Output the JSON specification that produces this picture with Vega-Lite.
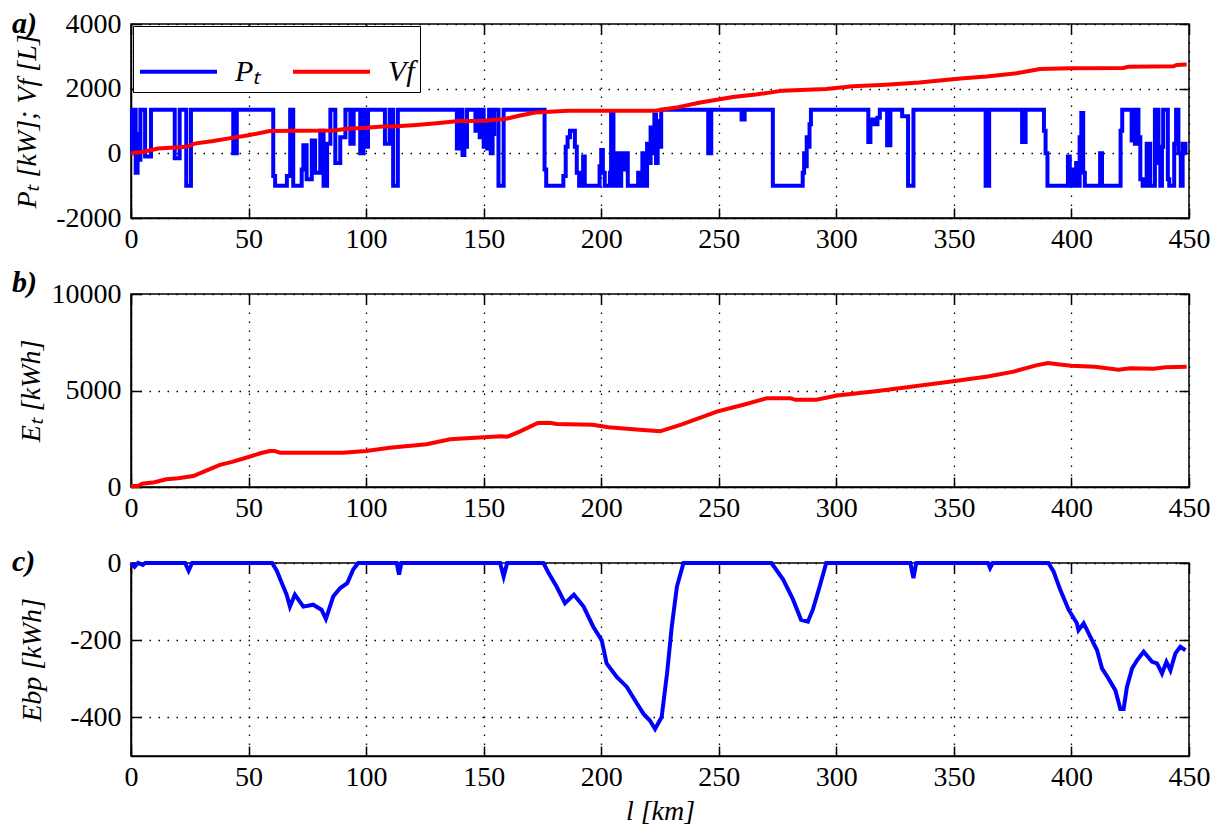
{
  "$schema": "https://vega.github.io/schema/vega-lite/v6.json",
  "padding": {"left": 11, "top": 8, "right": 5, "bottom": 5},
  "bounds": "flush",
  "spacing": 76,
  "config": {
    "font": "Liberation Serif",
    "view": {"stroke": "black", "strokeWidth": 1.5},
    "axis": {
      "labelFont": "Liberation Serif", "labelFontSize": 28, "labelColor": "black",
      "titleFont": "Liberation Serif", "titleFontSize": 28, "titleFontWeight": "normal", "titleFontStyle": "italic", "titleColor": "black",
      "domainColor": "black", "domainWidth": 1.5,
      "tickColor": "black", "tickWidth": 1.5, "tickSize": -10,
      "labelFlush": false, "labelOverlap": false, "labelBound": false,
      "grid": true, "gridColor": "black", "gridDash": [1.5, 7.5], "gridWidth": 1.3, "gridOpacity": 1
    },
    "axisX": {"labelPadding": 17, "labelFont": "Liberation Serif"},
    "axisY": {"labelPadding": 20, "labelFont": "Liberation Serif"},
    "legend": {"labelFont": "Liberation Serif"}
  },
  "datasets": {
    "pt": [
      {"l":0,"v":0},{"l":0.4,"v":1350},{"l":1,"v":300},{"l":1.5,"v":1350},{"l":2,"v":-600},{"l":2.8,"v":600},{"l":3.5,"v":-200},{"l":4,"v":1350},{"l":6,"v":-100},{"l":8.5,"v":1350},
      {"l":18.6,"v":-150},{"l":20.7,"v":1350},{"l":23.5,"v":-1000},{"l":25.5,"v":1350},{"l":43.5,"v":0},{"l":45,"v":1350},{"l":60.5,"v":-700},{"l":61.3,"v":-1000},{"l":66.3,"v":-700},{"l":67.7,"v":1350},
      {"l":69,"v":-1000},{"l":72.6,"v":-500},{"l":73.3,"v":250},{"l":74.7,"v":-800},{"l":76.9,"v":400},{"l":78.3,"v":-600},{"l":80.5,"v":700},{"l":81.9,"v":-1000},{"l":83.4,"v":300},{"l":84.8,"v":1350},
      {"l":86.9,"v":-300},{"l":89,"v":500},{"l":91.2,"v":1350},{"l":93.3,"v":300},{"l":94.7,"v":1350},{"l":97.5,"v":0},{"l":98.9,"v":1350},{"l":100.2,"v":200},{"l":100.8,"v":1350},{"l":108,"v":300},
      {"l":110,"v":1350},{"l":111.5,"v":-1000},{"l":113.5,"v":1350},{"l":138.6,"v":150},{"l":139.3,"v":1350},{"l":139.9,"v":400},{"l":140.5,"v":1350},{"l":141,"v":-50},{"l":141.8,"v":900},{"l":142.3,"v":200},
      {"l":142.9,"v":1350},{"l":146.5,"v":700},{"l":147.5,"v":1350},{"l":148.3,"v":500},{"l":149,"v":1350},{"l":150,"v":200},{"l":150.8,"v":900},{"l":151.5,"v":150},{"l":152.3,"v":1350},{"l":153,"v":0},
      {"l":153.8,"v":600},{"l":154.5,"v":1350},{"l":156.3,"v":-1000},{"l":158.5,"v":1350},{"l":175.9,"v":-500},{"l":176.6,"v":-1000},{"l":183.9,"v":-700},{"l":184.9,"v":200},{"l":185.7,"v":500},{"l":186.7,"v":700},
      {"l":188.8,"v":200},{"l":189.6,"v":-600},{"l":190.6,"v":-1000},{"l":192.3,"v":-100},{"l":193,"v":-1000},{"l":199.3,"v":-400},{"l":200,"v":100},{"l":200.7,"v":-600},{"l":201.5,"v":-1000},{"l":203.7,"v":-600},
      {"l":204.2,"v":1300},{"l":205.2,"v":-1000},{"l":206.5,"v":0},{"l":207.3,"v":-1000},{"l":208.5,"v":0},{"l":209.5,"v":-500},{"l":210.5,"v":0},{"l":211.3,"v":-1000},{"l":215.7,"v":-600},{"l":216.4,"v":-1000},
      {"l":217.5,"v":0},{"l":218.3,"v":-1000},{"l":219.5,"v":300},{"l":220.2,"v":-300},{"l":221,"v":800},{"l":221.8,"v":0},{"l":222.6,"v":1200},{"l":223.3,"v":-300},{"l":224,"v":1000},{"l":224.7,"v":200},
      {"l":225.5,"v":1350},{"l":245.5,"v":0},{"l":246.8,"v":1350},{"l":259.7,"v":1050},{"l":261,"v":1350},{"l":273,"v":-1000},{"l":285.7,"v":-600},{"l":286.3,"v":0},{"l":286.9,"v":-400},{"l":287.4,"v":500},
      {"l":288,"v":200},{"l":288.6,"v":900},{"l":289.2,"v":1350},{"l":313.6,"v":350},{"l":314.5,"v":1050},{"l":316,"v":900},{"l":317.5,"v":1100},{"l":318.5,"v":1350},{"l":321.6,"v":250},{"l":323,"v":1350},
      {"l":328,"v":1150},{"l":330.5,"v":-1000},{"l":332.8,"v":1350},{"l":363.5,"v":-1000},{"l":365,"v":1350},{"l":379,"v":350},{"l":380.5,"v":1350},{"l":388.3,"v":700},{"l":389,"v":0},{"l":389.8,"v":-1000},
      {"l":398.5,"v":-100},{"l":399.3,"v":-1000},{"l":400.3,"v":-500},{"l":401,"v":-1000},{"l":402,"v":-300},{"l":402.7,"v":-1000},{"l":403.5,"v":500},{"l":404.2,"v":1250},{"l":405,"v":-600},{"l":405.7,"v":-1000},
      {"l":412.2,"v":0},{"l":413,"v":-1000},{"l":420.9,"v":700},{"l":421.6,"v":1350},{"l":425.6,"v":400},{"l":426.3,"v":1350},{"l":427,"v":300},{"l":427.7,"v":1350},{"l":428.5,"v":500},{"l":429.3,"v":-800},
      {"l":430.3,"v":-1000},{"l":432,"v":300},{"l":433.5,"v":-1000},{"l":435.5,"v":1350},{"l":437,"v":-300},{"l":437.8,"v":-1000},{"l":438.5,"v":200},{"l":439,"v":1350},{"l":441,"v":-800},{"l":441.6,"v":-1000},
      {"l":443.7,"v":300},{"l":444.5,"v":1350},{"l":445.5,"v":0},{"l":446.5,"v":-1000},{"l":447.3,"v":300},{"l":448.5,"v":0},{"l":449,"v":0}
    ],
    "vf": [
      {"l":0,"v":0},{"l":5,"v":40},{"l":11.5,"v":150},{"l":23.7,"v":200},{"l":27,"v":300},{"l":35,"v":380},{"l":41,"v":455},{"l":50,"v":557},{"l":59,"v":690},{"l":70,"v":700},
      {"l":86,"v":710},{"l":92,"v":758},{"l":100,"v":790},{"l":107,"v":830},{"l":111,"v":830},{"l":120,"v":870},{"l":130,"v":930},{"l":139.4,"v":1000},{"l":150,"v":1010},{"l":159,"v":1060},
      {"l":165,"v":1160},{"l":172,"v":1260},{"l":186,"v":1315},{"l":223,"v":1315},{"l":231.8,"v":1415},{"l":241.6,"v":1566},{"l":256,"v":1739},{"l":265.8,"v":1818},{"l":277,"v":1939},{"l":295.6,"v":1990},
      {"l":307,"v":2072},{"l":321,"v":2121},{"l":335.3,"v":2190},{"l":344,"v":2253},{"l":354,"v":2324},{"l":364,"v":2375},{"l":376.7,"v":2475},{"l":386.6,"v":2606},{"l":400,"v":2630},{"l":422,"v":2640},
      {"l":424.3,"v":2680},{"l":443.4,"v":2690},{"l":444.8,"v":2735},{"l":449,"v":2745}
    ],
    "et": [
      {"l":0,"v":50},{"l":3,"v":50},{"l":4.7,"v":170},{"l":10,"v":250},{"l":15,"v":400},{"l":20,"v":450},{"l":26.5,"v":570},{"l":32,"v":850},{"l":37.8,"v":1150},{"l":43,"v":1300},
      {"l":50,"v":1554},{"l":55,"v":1750},{"l":59,"v":1865},{"l":61,"v":1870},{"l":63.4,"v":1777},{"l":90,"v":1777},{"l":100,"v":1865},{"l":110,"v":2036},{"l":125.7,"v":2212},{"l":135.7,"v":2470},
      {"l":150,"v":2577},{"l":157.7,"v":2629},{"l":160,"v":2600},{"l":165.5,"v":2886},{"l":173,"v":3316},{"l":178,"v":3330},{"l":181,"v":3264},{"l":196.4,"v":3230},{"l":203,"v":3092},{"l":216.3,"v":2972},
      {"l":225,"v":2886},{"l":234,"v":3230},{"l":249.5,"v":3917},{"l":260.5,"v":4260},{"l":270.5,"v":4604},{"l":280.4,"v":4604},{"l":282.6,"v":4518},{"l":291.5,"v":4518},{"l":300.3,"v":4742},{"l":315.8,"v":4948},
      {"l":326.8,"v":5120},{"l":348.9,"v":5463},{"l":364.4,"v":5721},{"l":375.4,"v":5979},{"l":385,"v":6300},{"l":390,"v":6420},{"l":395,"v":6350},{"l":400,"v":6280},{"l":410,"v":6230},{"l":420,"v":6080},
      {"l":425,"v":6150},{"l":435,"v":6130},{"l":440,"v":6200},{"l":449,"v":6230}
    ],
    "ebp": [
      {"l":0,"v":0},{"l":1.5,"v":-10},{"l":3,"v":0},{"l":5,"v":-5},{"l":6,"v":0},{"l":23,"v":0},{"l":24.5,"v":-20},{"l":26,"v":0},{"l":60,"v":0},{"l":62,"v":-20},
      {"l":64,"v":-50},{"l":66.2,"v":-82},{"l":67.6,"v":-113},{"l":69.7,"v":-82},{"l":73.3,"v":-113},{"l":77.5,"v":-108},{"l":81,"v":-121},{"l":82.9,"v":-145},{"l":86,"v":-87},{"l":89,"v":-65},
      {"l":92,"v":-52},{"l":94.5,"v":-17},{"l":96.6,"v":0},{"l":113,"v":0},{"l":114,"v":-30},{"l":115,"v":0},{"l":157,"v":0},{"l":158.5,"v":-35},{"l":160,"v":0},{"l":175.4,"v":0},
      {"l":178,"v":-30},{"l":181,"v":-61},{"l":184.6,"v":-104},{"l":188.4,"v":-82},{"l":192.5,"v":-113},{"l":196.6,"v":-165},{"l":200.2,"v":-200},{"l":202.3,"v":-260},{"l":206.6,"v":-295},{"l":210.9,"v":-321},
      {"l":214.4,"v":-356},{"l":218,"v":-391},{"l":220.7,"v":-408},{"l":222.9,"v":-430},{"l":225.7,"v":-399},{"l":228,"v":-286},{"l":230,"v":-165},{"l":232.2,"v":-61},{"l":235,"v":0},{"l":272.4,"v":0},
      {"l":277.4,"v":-43},{"l":281.6,"v":-95},{"l":285,"v":-147},{"l":287.9,"v":-152},{"l":290,"v":-121},{"l":292.9,"v":-61},{"l":295.7,"v":0},{"l":331.5,"v":0},{"l":332.8,"v":-39},{"l":334,"v":0},
      {"l":364.5,"v":0},{"l":365.4,"v":-13},{"l":366.5,"v":0},{"l":390.2,"v":0},{"l":392.4,"v":-22},{"l":395.2,"v":-69},{"l":398.8,"v":-121},{"l":402.3,"v":-156},{"l":403,"v":-174},{"l":405.2,"v":-156},
      {"l":408,"v":-191},{"l":410.9,"v":-226},{"l":413,"v":-273},{"l":415.8,"v":-300},{"l":418.7,"v":-330},{"l":420.8,"v":-378},{"l":422.2,"v":-378},{"l":423.6,"v":-321},{"l":425.8,"v":-273},{"l":427.9,"v":-252},
      {"l":430.7,"v":-230},{"l":434.3,"v":-256},{"l":436.4,"v":-260},{"l":438.5,"v":-286},{"l":440.4,"v":-256},{"l":442.1,"v":-278},{"l":444.2,"v":-234},{"l":446.3,"v":-217},{"l":448.5,"v":-226}
    ]
  },
  "vconcat": [
    {
      "width": 1058, "height": 194,
      "title": {"text": "a)", "anchor": "start", "frame": "group", "dx": -119, "dy": 29, "fontSize": 30, "fontStyle": "italic", "fontWeight": "bold", "font": "Liberation Serif", "color": "black", "offset": 0},
      "resolve": {"axis": {"x": "independent", "y": "independent"}},
      "layer": [
        {
          "data": {"name": "pt"},
          "mark": {"type": "line", "interpolate": "step-after", "strokeWidth": 4},
          "encoding": {
            "x": {"field": "l", "type": "quantitative", "scale": {"domain": [0, 450], "nice": false, "zero": false}, "axis": {"values": [0,50,100,150,200,250,300,350,400,450], "title": null, "labelFont": "Liberation Serif", "labelExpr": "'' + datum.value"}},
            "y": {"field": "v", "type": "quantitative", "scale": {"domain": [-2000, 4000], "nice": false}, "axis": {"values": [-2000,0,2000,4000], "title": "Pₜ [kW]; Vf [L]", "titleX": -104, "titleBaseline": "middle", "labelFont": "Liberation Serif", "labelExpr": "'' + datum.value"}},
            "color": {"datum": "Pₜ", "type": "nominal", "scale": {"domain": ["Pₜ", "Vf"], "range": ["#0000ff", "#ff0000"]},
              "legend": {"title": null, "orient": "top-left", "offset": 2, "direction": "horizontal", "symbolType": "stroke", "symbolSize": 5929, "symbolStrokeWidth": 4, "labelFont": "Liberation Serif", "labelFontStyle": "italic", "labelFontSize": 30, "labelColor": "black", "labelOffset": 16, "columnPadding": 24, "padding": 5, "fillColor": "white", "strokeColor": "black"}}
          }
        },
        {
          "data": {"name": "vf"},
          "mark": {"type": "line", "strokeWidth": 4},
          "encoding": {
            "x": {"field": "l", "type": "quantitative", "axis": null},
            "y": {"field": "v", "type": "quantitative", "axis": null},
            "color": {"datum": "Vf", "type": "nominal"}
          }
        },
        {
          "data": {"name": "pt"},
          "mark": {"type": "line", "strokeOpacity": 0},
          "encoding": {
            "x": {"field": "l", "type": "quantitative", "axis": {"orient": "top", "values": [0,50,100,150,200,250,300,350,400,450], "labels": false, "grid": false, "domain": false, "title": null}},
            "y": {"field": "v", "type": "quantitative", "axis": {"orient": "right", "values": [-2000,0,2000,4000], "labels": false, "grid": false, "domain": false, "title": null}}
          }
        }
      ]
    },
    {
      "width": 1058, "height": 193,
      "title": {"text": "b)", "anchor": "start", "frame": "group", "dx": -119, "dy": 18, "fontSize": 30, "fontStyle": "italic", "fontWeight": "bold", "font": "Liberation Serif", "color": "black", "offset": 0},
      "resolve": {"axis": {"x": "independent", "y": "independent"}},
      "layer": [
        {
          "data": {"name": "et"},
          "mark": {"type": "line", "color": "#ff0000", "strokeWidth": 4},
          "encoding": {
            "x": {"field": "l", "type": "quantitative", "scale": {"domain": [0, 450], "nice": false, "zero": false}, "axis": {"values": [0,50,100,150,200,250,300,350,400,450], "title": null, "labelFont": "Liberation Serif", "labelExpr": "'' + datum.value"}},
            "y": {"field": "v", "type": "quantitative", "scale": {"domain": [0, 10000], "nice": false}, "axis": {"values": [0,5000,10000], "title": "Eₜ [kWh]", "titleX": -100, "titleBaseline": "middle", "labelFont": "Liberation Serif", "labelExpr": "'' + datum.value"}}
          }
        },
        {
          "data": {"name": "et"},
          "mark": {"type": "line", "strokeOpacity": 0},
          "encoding": {
            "x": {"field": "l", "type": "quantitative", "axis": {"orient": "top", "values": [0,50,100,150,200,250,300,350,400,450], "labels": false, "grid": false, "domain": false, "title": null}},
            "y": {"field": "v", "type": "quantitative", "axis": {"orient": "right", "values": [0,5000,10000], "labels": false, "grid": false, "domain": false, "title": null}}
          }
        }
      ]
    },
    {
      "width": 1058, "height": 193,
      "title": {"text": "c)", "anchor": "start", "frame": "group", "dx": -119, "dy": 28, "fontSize": 30, "fontStyle": "italic", "fontWeight": "bold", "font": "Liberation Serif", "color": "black", "offset": 0},
      "resolve": {"axis": {"x": "independent", "y": "independent"}},
      "layer": [
        {
          "data": {"name": "ebp"},
          "mark": {"type": "line", "color": "#0000ff", "strokeWidth": 4},
          "encoding": {
            "x": {"field": "l", "type": "quantitative", "scale": {"domain": [0, 450], "nice": false, "zero": false}, "axis": {"values": [0,50,100,150,200,250,300,350,400,450], "title": "l [km]", "titlePadding": 6, "labelFont": "Liberation Serif", "labelExpr": "'' + datum.value"}},
            "y": {"field": "v", "type": "quantitative", "scale": {"domain": [-500, 0], "nice": false}, "axis": {"values": [-400,-200,0], "title": "Ebp [kWh]", "titleX": -99, "titleBaseline": "middle", "labelFont": "Liberation Serif", "labelExpr": "'' + datum.value"}}
          }
        },
        {
          "data": {"name": "ebp"},
          "mark": {"type": "line", "strokeOpacity": 0},
          "encoding": {
            "x": {"field": "l", "type": "quantitative", "axis": {"orient": "top", "values": [0,50,100,150,200,250,300,350,400,450], "labels": false, "grid": false, "domain": false, "title": null}},
            "y": {"field": "v", "type": "quantitative", "axis": {"orient": "right", "values": [-400,-200,0], "labels": false, "grid": false, "domain": false, "title": null}}
          }
        }
      ]
    }
  ]
}
